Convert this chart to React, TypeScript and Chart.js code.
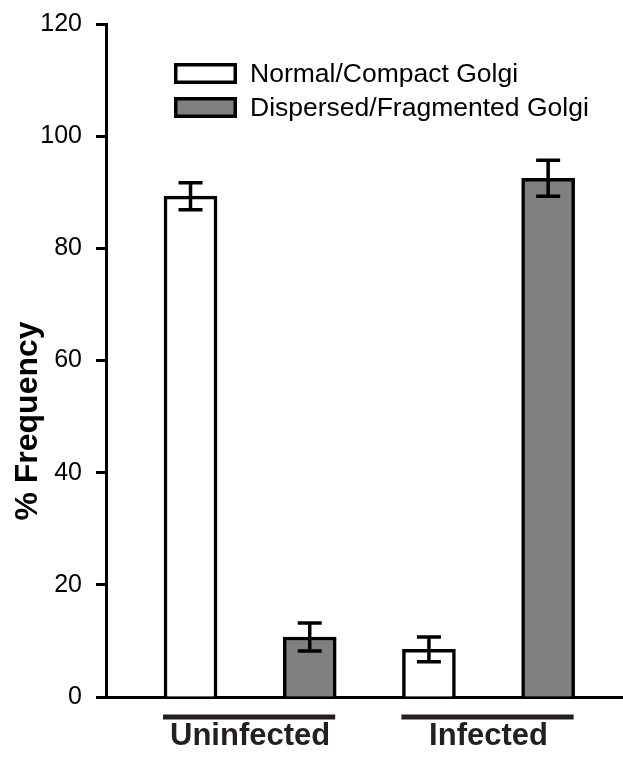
import React, { useEffect, useRef } from 'react';
import { Chart, registerables } from 'chart.js';

Chart.register(...registerables);

const categories = ['Uninfected', 'Infected'];
const seriesLabels = ['Normal/Compact Golgi', 'Dispersed/Fragmented Golgi'];
const normalValues = [89.3, 8.5];
const normalErrors = [2.4, 2.2];
const dispersedValues = [10.7, 92.5];
const dispersedErrors = [2.5, 3.2];
const seriesColors = ['#ffffff', '#808080'];
const yTickValues = [0, 20, 40, 60, 80, 100, 120];

const FONT = '"Liberation Sans", Arial, Helvetica, sans-serif';
const DARK = '#231f20';

const decorPlugin = {
  id: 'decor',
  afterDatasetsDraw(chart: any) {
    const ctx = chart.ctx;
    const ys = chart.scales.y;
    ctx.save();
    ctx.strokeStyle = '#000';
    ctx.lineWidth = 3.5;
    chart.data.datasets.forEach((ds: any, di: number) => {
      const meta = chart.getDatasetMeta(di);
      meta.data.forEach((bar: any, i: number) => {
        const v = ds.data[i].y;
        const e = ds.errors[i];
        const yt = ys.getPixelForValue(v + e);
        const yb = ys.getPixelForValue(v - e);
        const x = bar.x;
        ctx.beginPath();
        ctx.moveTo(x, yt);
        ctx.lineTo(x, yb);
        ctx.moveTo(x - 12, yt);
        ctx.lineTo(x + 12, yt);
        ctx.moveTo(x - 12, yb);
        ctx.lineTo(x + 12, yb);
        ctx.stroke();
      });
    });
    ctx.restore();
  },
  afterDraw(chart: any) {
    const ctx = chart.ctx;
    const area = chart.chartArea;
    ctx.save();
    // category underlines
    const m0 = chart.getDatasetMeta(0);
    const m1 = chart.getDatasetMeta(1);
    ctx.strokeStyle = DARK;
    ctx.lineWidth = 5;
    categories.forEach((_c, i) => {
      const b0 = m0.data[i];
      const b1 = m1.data[i];
      const x0 = b0.x - b0.width / 2 - 1;
      const x1 = b1.x + b1.width / 2 - 1;
      ctx.beginPath();
      ctx.moveTo(x0, area.bottom + 20);
      ctx.lineTo(x1, area.bottom + 20);
      ctx.stroke();
    });
    // legend
    ctx.font = `26.5px ${FONT}`;
    ctx.textBaseline = 'middle';
    ctx.textAlign = 'left';
    chart.data.datasets.forEach((ds: any, di: number) => {
      const cy = 73.5 + di * 34;
      const bx = 174;
      const bw = 63;
      const bh = 21;
      ctx.fillStyle = ds.backgroundColor;
      ctx.fillRect(bx, cy - bh / 2, bw, bh);
      ctx.strokeStyle = '#000';
      ctx.lineWidth = 3.5;
      ctx.strokeRect(bx + 1.75, cy - bh / 2 + 1.75, bw - 3.5, bh - 3.5);
      ctx.fillStyle = '#000';
      ctx.fillText(ds.label, 250, cy + 1);
    });
    // y axis title
    ctx.translate(37, 421);
    ctx.rotate(-Math.PI / 2);
    ctx.font = `bold 32px ${FONT}`;
    ctx.textAlign = 'center';
    ctx.textBaseline = 'alphabetic';
    ctx.fillStyle = '#000';
    ctx.fillText('% Frequency', 0, 0);
    ctx.restore();
  },
};

export default function App() {
  const ref = useRef<HTMLCanvasElement>(null);
  useEffect(() => {
    if (!ref.current) return;
    const mk = (vals: number[], j: number) => vals.map((v, i) => ({ x: i * 2 + j, y: v }));
    const chart = new Chart(ref.current, {
      type: 'bar',
      data: {
        datasets: [
          {
            label: seriesLabels[0],
            data: mk(normalValues, 0),
            errors: normalErrors,
            backgroundColor: seriesColors[0],
            borderColor: '#000',
            borderWidth: 3.5,
            barThickness: 53,
            grouped: false,
          } as any,
          {
            label: seriesLabels[1],
            data: mk(dispersedValues, 1),
            errors: dispersedErrors,
            backgroundColor: seriesColors[1],
            borderColor: '#000',
            borderWidth: 3.5,
            barThickness: 53,
            grouped: false,
          } as any,
        ],
      },
      options: {
        animation: false,
        responsive: false,
        layout: { autoPadding: false, padding: { top: 24, left: 0, right: 0, bottom: 0 } },
        plugins: { legend: { display: false }, tooltip: { enabled: false } },
        scales: {
          x: {
            type: 'linear',
            offset: false,
            min: -0.709,
            max: 3.628,
            afterFit: (s: any) => { s.height = 60; },
            afterBuildTicks: (s: any) => {
              s.ticks = categories.map((_c, i) => ({ value: i * 2 + 0.5 }));
            },
            grid: { display: false, drawTicks: false },
            border: { display: true, color: '#000', width: 3 },
            ticks: {
              autoSkip: false,
              maxRotation: 0,
              padding: 21,
              color: DARK,
              font: { family: FONT, size: 31, weight: 'bold' },
              callback: (v: any) => categories[Math.round((Number(v) - 0.5) / 2)] ?? '',
            },
          },
          y: {
            min: 0,
            max: 120,
            afterFit: (s: any) => { s.width = 106; s.paddingTop = 0; s.paddingBottom = 0; },
            afterBuildTicks: (s: any) => {
              s.ticks = yTickValues.map((v) => ({ value: v }));
            },
            grid: {
              display: true,
              drawOnChartArea: false,
              drawTicks: true,
              tickLength: 10,
              tickWidth: 3,
              color: '#000',
            },
            border: { display: true, color: '#000', width: 3 },
            ticks: {
              padding: 14,
              color: '#000',
              font: { family: FONT, size: 25 },
            },
          },
        },
      },
      plugins: [decorPlugin],
    } as any);
    return () => chart.destroy();
  }, []);
  return (
    <div style={{ position: 'absolute', left: 0, top: 0, width: 623, height: 757, background: '#fff' }}>
      <canvas ref={ref} width={623} height={757} style={{ display: 'block', width: 623, height: 757 }} />
    </div>
  );
}
